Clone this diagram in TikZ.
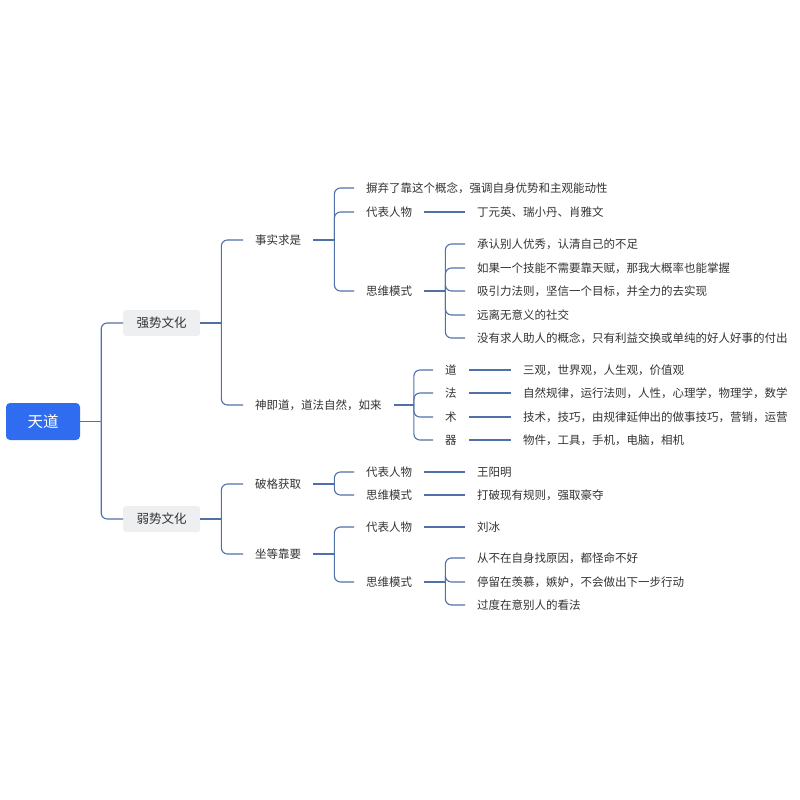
\documentclass[tikz,border=0pt]{standalone}
\usepackage{fontspec}
\newfontfamily\cjk{Noto Sans CJK SC}
\usepackage{tikz}
\definecolor{lineblue}{HTML}{5070A8}
\definecolor{rootblue}{HTML}{2F6CF0}
\definecolor{boxgray}{HTML}{EEEFF1}
\definecolor{txt}{HTML}{333333}

\begin{document}
\begin{tikzpicture}[x=1pt, y=-1pt,
    branch/.style={draw=lineblue, line width=1.1pt, rounded corners=6pt},
    leaf/.style={anchor=west, inner xsep=12pt, inner ysep=2pt, text=txt,
      font=\cjk\fontsize{11.5}{13}\selectfont},
    topic/.style={anchor=west, fill=boxgray, rounded corners=3pt, text=txt,
      minimum width=77pt, minimum height=26pt, inner xsep=0pt,
      font=\cjk\fontsize{12.5}{14}\selectfont},
    rootbox/.style={fill=rootblue, rounded corners=4pt, text=white,
      minimum width=74pt, minimum height=37pt,
      font=\cjk\fontsize{15.5}{17}\selectfont}]

  \useasboundingbox (0,0) rectangle (800,800);

  \node[rootbox] (root) at (43,421.5) {天道};

  \node[topic] (strong) at (123,323) {强势文化};
  \node[topic] (weak) at (123,519) {弱势文化};

  \draw[branch] (root.east) -- ++(21,0) coordinate (j0);
  \draw[branch] (j0) |- (strong.west);
  \draw[branch] (j0) |- (weak.west);

  % strong
  \node[leaf] (shishi) at (243,240) {事实求是};
  \node[leaf] (shenji) at (243,405) {神即道，道法自然，如来};
  \draw[branch] (strong.east) -- ++(21,0) coordinate (j1);
  \draw[branch] (j1) |- (shishi.west);
  \draw[branch] (j1) |- (shenji.west);

  \node[leaf] (paoqi) at (354,188) {摒弃了靠这个概念，强调自身优势和主观能动性};
  \node[leaf] (daibiao1) at (354,212) {代表人物};
  \node[leaf] (siwei1) at (354,291) {思维模式};
  \draw[branch] (shishi.east) -- ++(21,0) coordinate (j2);
  \foreach \n in {paoqi,daibiao1,siwei1}
    \draw[branch] (j2) |- (\n.west);

  \node[leaf] (renwu1) at (465,212) {丁元英、瑞小丹、肖雅文};
  \draw[branch] (daibiao1.east) -- (renwu1.west);

  \foreach \t/\y [count=\i] in {承认别人优秀，认清自己的不足/244,
      如果一个技能不需要靠天赋，那我大概率也能掌握/268,
      吸引力法则，坚信一个目标，并全力的去实现/291,
      远离无意义的社交/315,
      没有求人助人的概念，只有利益交换或单纯的好人好事的付出/338}
    \node[leaf] (swa\i) at (465,\y) {\t};
  \draw[branch] (siwei1.east) -- ++(21,0) coordinate (j3);
  \foreach \i in {1,...,5}
    \draw[branch] (j3) |- (swa\i.west);

  \foreach \k/\t/\y in {dao/道/370, fa/法/393, shu/术/417, qi/器/440}
    \node[leaf] (\k) at (433,\y) {\t};
  \draw[branch] (shenji.east) -- ++(20,0) coordinate (j4);
  \foreach \k in {dao,fa,shu,qi}
    \draw[branch] (j4) |- (\k.west);

  \node[leaf] (daox) at (511,370) {三观，世界观，人生观，价值观};
  \node[leaf] (fax) at (511,393) {自然规律，运行法则，人性，心理学，物理学，数学};
  \node[leaf] (shux) at (511,417) {技术，技巧，由规律延伸出的做事技巧，营销，运营};
  \node[leaf] (qix) at (511,440) {物件，工具，手机，电脑，相机};
  \foreach \k in {dao,fa,shu,qi}
    \draw[branch] (\k.east) -- (\k x.west);

  % weak
  \node[leaf] (poge) at (243,484) {破格获取};
  \node[leaf] (zuodeng) at (243,554) {坐等靠要};
  \draw[branch] (weak.east) -- ++(21,0) coordinate (j5);
  \draw[branch] (j5) |- (poge.west);
  \draw[branch] (j5) |- (zuodeng.west);

  \node[leaf] (daibiao2) at (354,472) {代表人物};
  \node[leaf] (siwei2) at (354,495) {思维模式};
  \draw[branch] (poge.east) -- ++(21,0) coordinate (j6);
  \draw[branch] (j6) |- (daibiao2.west);
  \draw[branch] (j6) |- (siwei2.west);

  \node[leaf] (renwu2) at (465,472) {王阳明};
  \node[leaf] (swb1) at (465,495) {打破现有规则，强取豪夺};
  \draw[branch] (daibiao2.east) -- (renwu2.west);
  \draw[branch] (siwei2.east) -- (swb1.west);

  \node[leaf] (daibiao3) at (354,527) {代表人物};
  \node[leaf] (siwei3) at (354,582) {思维模式};
  \draw[branch] (zuodeng.east) -- ++(21,0) coordinate (j7);
  \draw[branch] (j7) |- (daibiao3.west);
  \draw[branch] (j7) |- (siwei3.west);

  \node[leaf] (renwu3) at (465,527) {刘冰};
  \draw[branch] (daibiao3.east) -- (renwu3.west);

  \foreach \t/\y [count=\i] in {从不在自身找原因，都怪命不好/558,
      停留在羡慕，嫉妒，不会做出下一步行动/582,
      过度在意别人的看法/605}
    \node[leaf] (swc\i) at (465,\y) {\t};
  \draw[branch] (siwei3.east) -- ++(21,0) coordinate (j8);
  \foreach \i in {1,2,3}
    \draw[branch] (j8) |- (swc\i.west);

\end{tikzpicture}
\end{document}
